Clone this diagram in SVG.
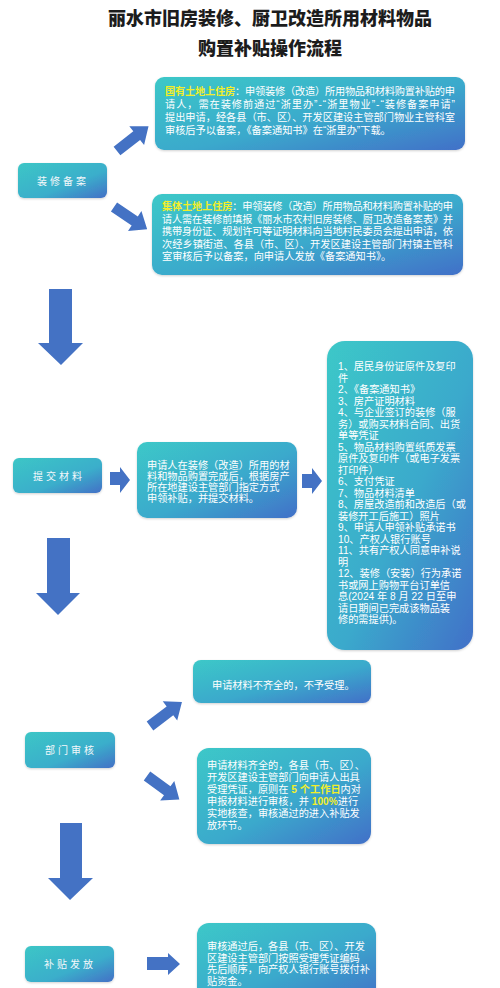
<svg xmlns="http://www.w3.org/2000/svg" xmlns:xlink="http://www.w3.org/1999/xlink" width="500" height="988" viewBox="0 0 500 988">
<defs>
<linearGradient id="g" x1="0" y1="0" x2="1" y2="1">
<stop offset="0" stop-color="#3cc8c8"/>
<stop offset="0.55" stop-color="#3aa9cc"/>
<stop offset="1" stop-color="#4270c8"/>
</linearGradient>
<linearGradient id="gs" x1="0" y1="0" x2="1" y2="1">
<stop offset="0" stop-color="#3cc6c6"/>
<stop offset="0.6" stop-color="#3aaecb"/>
<stop offset="1" stop-color="#4470c6"/>
</linearGradient>
<path id="diag" d="M0,-5.5 L25,-5.5 L25,-12 L40,0 L25,12 L25,5.5 L0,5.5 Z"/>
<filter id="sh" x="-10%" y="-10%" width="120%" height="130%">
<feDropShadow dx="0" dy="1" stdDeviation="1.2" flood-color="#000" flood-opacity="0.18"/>
</filter>
</defs>
<style>
.title{font-family:"Noto Sans CJK SC",sans-serif;font-weight:900;font-size:18px;fill:#1c1c1c;text-anchor:middle}
.box{fill:url(#g);filter:url(#sh)}
.node{fill:url(#gs);filter:url(#sh)}
.lbl{font-family:"Liberation Serif","Noto Sans CJK SC",serif;font-size:10px;fill:#f4f8fb;text-anchor:middle;letter-spacing:3px}
.t{font-family:"Liberation Sans","Noto Sans CJK SC",sans-serif;font-size:10.2px;fill:#ffffff}
.hl{fill:#f2ee2a;font-weight:bold}
.arr{fill:#4472c4}
</style>
<rect width="500" height="988" fill="#ffffff"/>
<g id="title">
<text class="title" x="270" y="25">丽水市旧房装修、厨卫改造所用材料物品</text>
<text class="title" x="270" y="55">购置补贴操作流程</text>
</g>
<g id="connectors">
<use href="#diag" class="arr" transform="translate(117,151) rotate(-38)"/>
<use href="#diag" class="arr" transform="translate(114,207) rotate(34)"/>
<path class="arr" d="M49,289 L72,289 L72,343 L83,343 L61,365 L38,343 L49,343 Z"/>
<path class="arr" d="M110,472 L120,472 L120,467 L130,480 L120,493 L120,485 L110,485 Z"/>
<path class="arr" d="M302,474 L312,474 L312,468 L322,481 L312,494 L312,488 L302,488 Z"/>
<path class="arr" d="M47,538 L70,538 L70,593 L80,593 L58,615 L36,593 L47,593 Z"/>
<use href="#diag" class="arr" transform="translate(150,726) rotate(-37)"/>
<use href="#diag" class="arr" transform="translate(147,776) rotate(36)"/>
<path class="arr" d="M60,823 L82,823 L82,878 L93,878 L70,900 L48,878 L60,878 Z"/>
<path class="arr" d="M147,957 L168,957 L168,953 L180,964 L168,975 L168,970 L147,970 Z"/>
</g>
<g id="box-guoyou">
<rect class="box" x="155" y="77" width="310" height="73" rx="9"/>
<text class="t" x="165" y="95" textLength="290" lengthAdjust="spacing"><tspan class="hl">国有土地上住房</tspan>：申领装修（改造）所用物品和材料购置补贴的申</text>
<text class="t" x="165" y="108" textLength="290" lengthAdjust="spacing">请人，需在装修前通过“浙里办”-“浙里物业”-“装修备案申请”</text>
<text class="t" x="165" y="121" textLength="290" lengthAdjust="spacing">提出申请，经各县（市、区）、开发区建设主管部门物业主管科室</text>
<text class="t" x="165" y="134">审核后予以备案，《备案通知书》在“浙里办”下载。</text>
</g>
<g id="box-jiti">
<rect class="box" x="152" y="194" width="311" height="81" rx="10"/>
<text class="t" x="162" y="210" textLength="291" lengthAdjust="spacing"><tspan class="hl">集体土地上住房</tspan>：申领装修（改造）所用物品和材料购置补贴的申</text>
<text class="t" x="162" y="222.5" textLength="291" lengthAdjust="spacingAndGlyphs">请人需在装修前填报《丽水市农村旧房装修、厨卫改造备案表》并</text>
<text class="t" x="162" y="235" textLength="291" lengthAdjust="spacing">携带身份证、规划许可等证明材料向当地村民委员会提出申请，依</text>
<text class="t" x="162" y="247.5" textLength="291" lengthAdjust="spacing">次经乡镇街道、各县（市、区）、开发区建设主管部门村镇主管科</text>
<text class="t" x="162" y="260">室审核后予以备案，向申请人发放《备案通知书》。</text>
</g>
<g id="node-zhuangxiu">
<rect class="node" x="18" y="163" width="89" height="35" rx="6"/>
<text class="lbl" x="63" y="184.5">装修备案</text>
</g>
<g id="node-tijiao">
<rect class="node" x="13" y="458" width="89" height="35" rx="6"/>
<text class="lbl" x="59" y="479.5">提交材料</text>
</g>
<g id="box-submit">
<rect class="box" x="137" y="442" width="160" height="76" rx="10"/>
<text class="t" x="147" y="469" font-size="10.1">申请人在装修（改造）所用的材</text>
<text class="t" x="147" y="480" font-size="10.1">料和物品购置完成后，根据房产</text>
<text class="t" x="147" y="491" font-size="10.1">所在地建设主管部门指定方式</text>
<text class="t" x="147" y="502" font-size="10.1">申领补贴，并提交材料。</text>
</g>
<g id="box-list">
<rect class="box" x="327" y="341" width="146" height="309" rx="18"/>
<g class="t" font-size="10.8">
<text x="338" y="370">1、居民身份证原件及复印</text>
<text x="338" y="381.5">件</text>
<text x="338" y="393">2、《备案通知书》</text>
<text x="338" y="404.5">3、房产证明材料</text>
<text x="338" y="416">4、与企业签订的装修（服</text>
<text x="338" y="427.5">务）或购买材料合同、出货</text>
<text x="338" y="439">单等凭证</text>
<text x="338" y="450.5">5、物品材料购置纸质发票</text>
<text x="338" y="462">原件及复印件（或电子发票</text>
<text x="338" y="473.5">打印件）</text>
<text x="338" y="485">6、支付凭证</text>
<text x="338" y="496.5">7、物品材料清单</text>
<text x="338" y="508">8、房屋改造前和改造后（或</text>
<text x="338" y="519.5">装修开工后施工）照片</text>
<text x="338" y="531">9、申请人申领补贴承诺书</text>
<text x="338" y="542.5">10、产权人银行账号</text>
<text x="338" y="554">11、共有产权人同意申补说</text>
<text x="338" y="565.5">明</text>
<text x="338" y="577">12、装修（安装）行为承诺</text>
<text x="338" y="588.5">书或网上购物平台订单信</text>
<text x="338" y="600">息(2024 年 8 月 22 日至申</text>
<text x="338" y="611.5">请日期间已完成该物品装</text>
<text x="338" y="623">修的需提供)。</text>
</g>
</g>
<g id="node-bumen">
<rect class="node" x="25" y="732" width="90" height="36" rx="6"/>
<text class="lbl" x="71" y="754">部门审核</text>
</g>
<g id="box-buqi">
<rect class="box" x="193" y="660" width="178" height="43" rx="8"/>
<text class="t" x="212" y="689" font-size="9.7">申请材料不齐全的，不予受理。</text>
</g>
<g id="box-qiquan">
<rect class="box" x="197" y="748" width="174" height="96" rx="12"/>
<g class="t" font-size="10.1">
<text x="207" y="769">申请材料齐全的，各县（市、区）、</text>
<text x="207" y="781">开发区建设主管部门向申请人出具</text>
<text x="207" y="793">受理凭证，原则在 <tspan class="hl">5 个工作日</tspan>内对</text>
<text x="207" y="805">申报材料进行审核，并 <tspan class="hl">100%</tspan>进行</text>
<text x="207" y="817">实地核查，审核通过的进入补贴发</text>
<text x="207" y="829">放环节。</text>
</g>
</g>
<g id="node-fafang">
<rect class="node" x="25" y="946" width="89" height="36" rx="6"/>
<text class="lbl" x="70" y="968">补贴发放</text>
</g>
<g id="box-final">
<rect class="box" x="197" y="923" width="179" height="80" rx="12"/>
<g class="t" font-size="10">
<text x="207" y="950">审核通过后，各县（市、区）、开发</text>
<text x="207" y="961.5">区建设主管部门按照受理凭证编码</text>
<text x="207" y="973">先后顺序，向产权人银行账号拨付补</text>
<text x="207" y="984.5">贴资金。</text>
</g>
</g>
</svg>
